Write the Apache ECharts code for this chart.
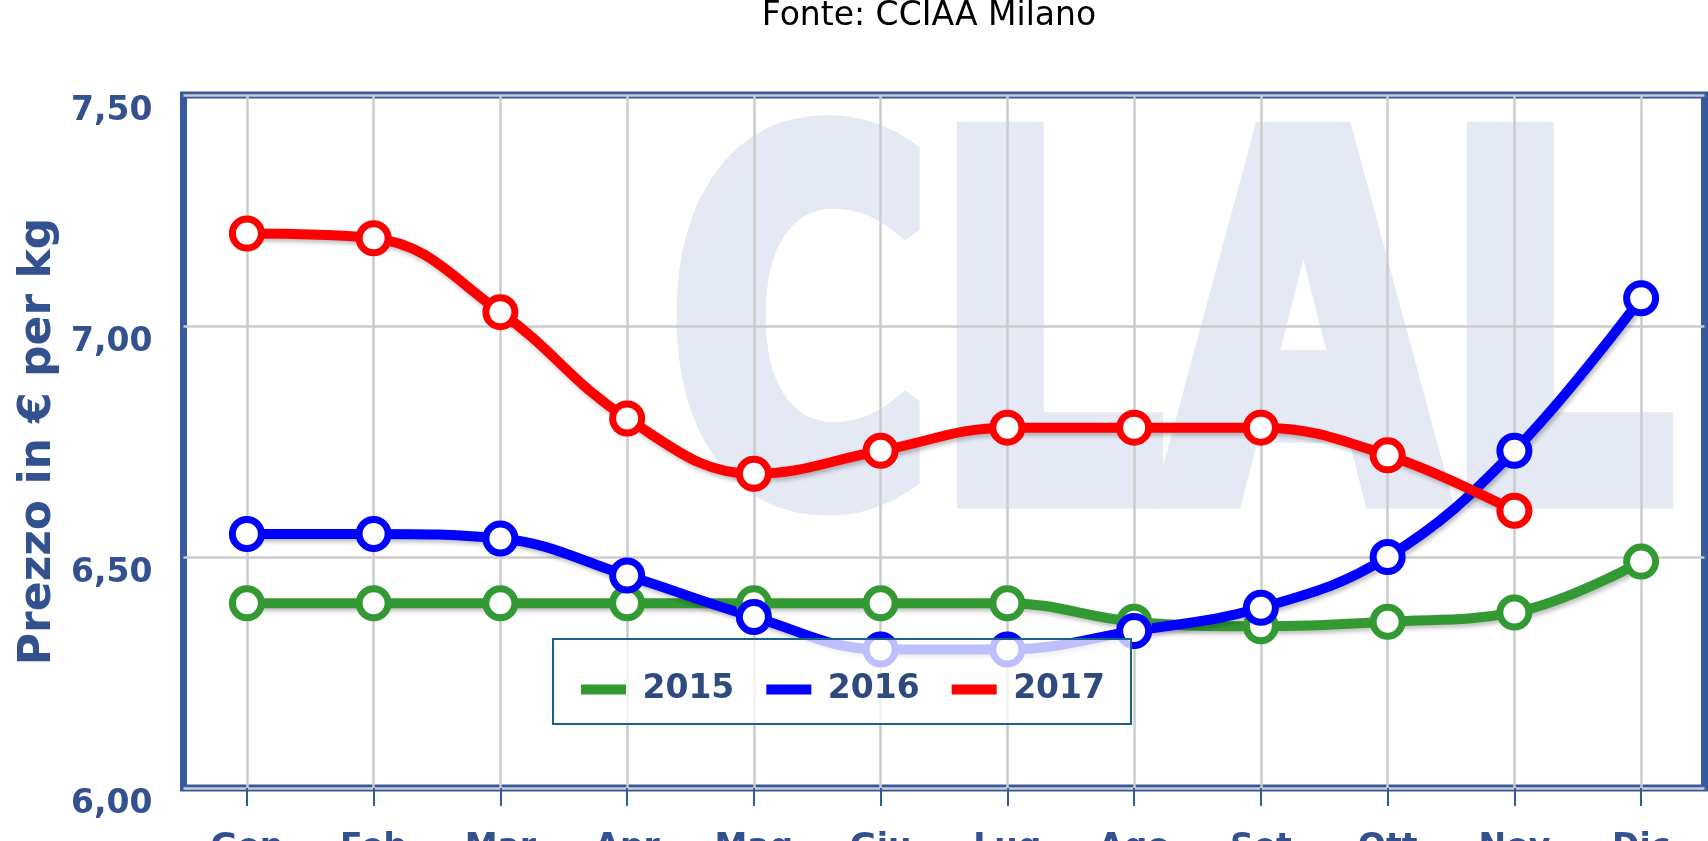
<!DOCTYPE html>
<html>
<head>
<meta charset="utf-8">
<script src="https://cdn.jsdelivr.net/npm/echarts@6/dist/echarts.min.js"></script>
<style>
  html, body { margin: 0; padding: 0; background: #fff; }
  #main { width: 1708px; height: 841px; }
</style>
</head>
<body>
<div id="main"></div>
<script>
// Prezzo in € per kg - Fonte CCIAA Milano
var months = ['Gen', 'Feb', 'Mar', 'Apr', 'Mag', 'Giu', 'Lug', 'Ago', 'Set', 'Ott', 'Nov', 'Dic'];
var years = ['2015', '2016', '2017'];
var prezzi2015 = [6.40, 6.40, 6.40, 6.40, 6.40, 6.40, 6.40, 6.36, 6.35, 6.36, 6.38, 6.49];
var prezzi2016 = [6.55, 6.55, 6.54, 6.46, 6.37, 6.30, 6.30, 6.34, 6.39, 6.50, 6.73, 7.06];
var prezzi2017 = [7.20, 7.19, 7.03, 6.80, 6.68, 6.73, 6.78, 6.78, 6.78, 6.72, 6.60, null];
var colori = ['#339933', '#0000ff', '#ff0000'];

var dom = document.getElementById('main');
var myChart = echarts.init(dom);
var option;

var blu = '#375a9e';
var testoBlu = '#33508f';

function serie(nome, dati, colore) {
    return {
        name: nome,
        type: 'line',
        data: dati,
        smooth: 0.4,
        symbol: 'circle',
        symbolSize: 29,
        lineStyle: {
            color: colore,
            width: 10,
            shadowColor: 'rgba(0,0,0,0.25)',
            shadowBlur: 4,
            shadowOffsetX: 2,
            shadowOffsetY: 3
        },
        itemStyle: {
            color: '#fff',
            borderColor: colore,
            borderWidth: 7
        },
        emphasis: { disabled: true }
    };
}

option = {
    backgroundColor: '#fff',
    animation: false,
    title: {
        text: 'Fonte: CCIAA Milano',
        left: 929,
        top: 0,
        padding: 0,
        textAlign: 'center',
        textStyle: {
            fontFamily: 'DejaVu Sans',
            fontWeight: 'normal',
            fontSize: 33,
            color: '#000'
        }
    },
    // logo CLAL in filigrana
    graphic: [
        {
            type: 'text',
            x: 668,
            y: 367,
            scaleX: 0.73,
            z: -10,
            style: {
                text: 'CLAL',
                fill: '#e5e9f4',
                stroke: '#e5e9f4',
                lineWidth: 26,
                lineJoin: 'round',
                fontSize: 495,
                fontWeight: 'bold',
                fontFamily: 'DejaVu Sans',
                align: 'left',
                verticalAlign: 'middle'
            }
        }
    ],
    legend: {
        left: 553,
        top: 639,
        padding: [34, 26, 18, 28],
        itemWidth: 45,
        itemHeight: 10,
        itemGap: 32,
        icon: 'rect',
        formatter: ' {name}',
        backgroundColor: 'rgba(255,255,255,0.75)',
        borderColor: '#16648c',
        borderWidth: 2,
        textStyle: {
            fontFamily: 'DejaVu Sans',
            fontWeight: 'bold',
            fontSize: 33,
            color: '#2e4a7e'
        },
        data: years.map(function (y, i) {
            return { name: y, itemStyle: { color: colori[i], borderWidth: 0 } };
        })
    },
    grid: {
        left: 183.5,
        right: 3.5,
        top: 95,
        bottom: 53,
        outerBoundsMode: 'none',
        containLabel: false,
        show: true,
        borderColor: blu,
        borderWidth: 7
    },
    xAxis: [
        {
            type: 'category',
            data: months,
            boundaryGap: true,
            axisLine: { show: false },
            axisLabel: { show: false },
            axisTick: {
                show: true,
                inside: true,
                alignWithLabel: true,
                interval: 0,
                length: 693,
                lineStyle: { color: '#cccccc', width: 2.5 }
            },
            splitLine: { show: false }
        },
        {
            type: 'category',
            data: months,
            position: 'bottom',
            boundaryGap: true,
            axisLine: { show: false },
            axisTick: {
                show: true,
                alignWithLabel: true,
                interval: 0,
                length: 18,
                lineStyle: { color: blu, width: 2 }
            },
            axisLabel: {
                interval: 0,
                margin: 44,
                fontFamily: 'DejaVu Sans',
                fontWeight: 'bold',
                fontSize: 33,
                color: testoBlu
            },
            splitLine: { show: false }
        }
    ],
    yAxis: {
        type: 'value',
        min: 6,
        max: 7.5,
        interval: 0.5,
        name: 'Prezzo in € per kg',
        nameLocation: 'middle',
        nameGap: 120,
        nameTextStyle: {
            fontFamily: 'DejaVu Sans',
            fontWeight: 'bold',
            fontSize: 44,
            color: testoBlu
        },
        axisLine: { show: false },
        axisTick: { show: false },
        axisLabel: {
            margin: 31,
            verticalAlign: 'top',
            fontFamily: 'DejaVu Sans',
            fontWeight: 'bold',
            fontSize: 33,
            color: testoBlu,
            formatter: function (v) { return v.toFixed(2).replace('.', ','); }
        },
        splitLine: { lineStyle: { color: '#cccccc', width: 2.5 } }
    },
    series: [
        serie(years[0], prezzi2015, colori[0]),
        serie(years[1], prezzi2016, colori[1]),
        serie(years[2], prezzi2017, colori[2])
    ]
};

if (option && typeof option === 'object') {
    myChart.setOption(option);
}
</script>
</body>
</html>
